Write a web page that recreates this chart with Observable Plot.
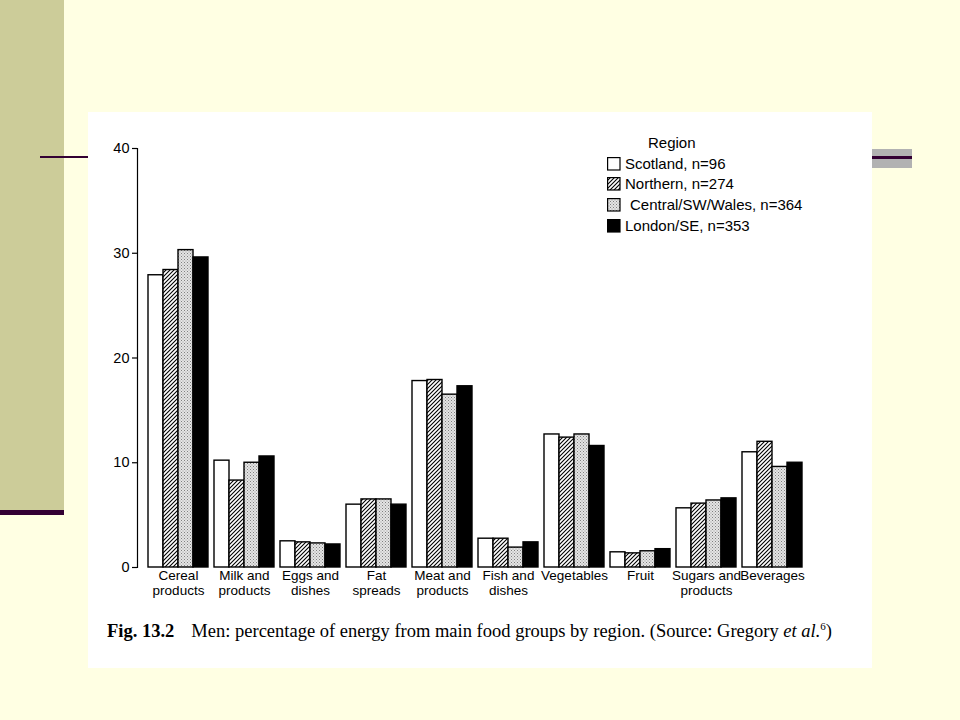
<!DOCTYPE html>
<html>
<head>
<meta charset="utf-8">
<script src="https://cdn.jsdelivr.net/npm/d3@7"></script>
<script src="https://cdn.jsdelivr.net/npm/@observablehq/plot@0.6"></script>
<style>
  html, body { margin: 0; padding: 0; }
  body { width: 960px; height: 720px; background: #FFFFE3; position: relative; overflow: hidden; font-family: "Liberation Sans", Arial, sans-serif; }
  .abs { position: absolute; }
  #band { left: 0; top: 0; width: 64px; height: 511px; background: #CCCC99; }
  #lineBottom { left: 0; top: 510px; width: 64px; height: 5px; background: #330033; }
  #lineLeft { left: 40px; top: 156px; width: 48px; height: 2px; background: #330033; }
  #greyBar { left: 872px; top: 149px; width: 40px; height: 19px; background: #B2B2B2; }
  #greyLine { left: 872px; top: 156px; width: 40px; height: 3px; background: #330033; }
  #panel { left: 88px; top: 112px; width: 784px; height: 556px; background: white; }
  #legend { left: 600px; top: 134px; font-size: 15px; color: #000; }
  #legend .title { position: absolute; left: 48px; top: 0; white-space: nowrap; }
  #legend .row { position: absolute; left: 7px; white-space: nowrap; height: 17px; }
  #legend .row svg { position: absolute; left: 0; top: 2px; }
  #legend .row span { position: absolute; left: 18px; top: 0; }
  #caption { left: 107px; top: 620px; font-family: "Liberation Serif", "Times New Roman", serif; font-size: 18.5px; white-space: nowrap; color: #000; }
  #caption b { margin-right: 17px; }
</style>
</head>
<body>
<svg width="0" height="0" style="position:absolute">
  <defs>
    <pattern id="hatch" patternUnits="userSpaceOnUse" width="4" height="4">
      <rect width="4" height="4" fill="white"/>
      <path d="M-1,1 l2,-2 M0,4 l4,-4 M3,5 l2,-2" stroke="black" stroke-width="1.1"/>
    </pattern>
    <pattern id="stipple" patternUnits="userSpaceOnUse" width="3" height="3">
      <rect width="3" height="3" fill="#e4e4e4"/>
      <rect x="0" y="0" width="1" height="1" fill="#808080"/>
      <rect x="1.5" y="1.5" width="1" height="1" fill="#9a9a9a"/>
    </pattern>
  </defs>
</svg>
<div id="band" class="abs"></div>
<div id="lineBottom" class="abs"></div>
<div id="lineLeft" class="abs"></div>
<div id="greyBar" class="abs"></div>
<div id="greyLine" class="abs"></div>
<div id="panel" class="abs"></div>
<div id="legend" class="abs"></div>
<div id="caption" class="abs"><b>Fig. 13.2</b>Men: percentage of energy from main food groups by region. (Source: Gregory <i>et al.</i><sup style="font-size:11px">6</sup>)</div>
<script>
// ---- Data ----
const categories = ["Cereal\nproducts", "Milk and\nproducts", "Eggs and\ndishes", "Fat\nspreads", "Meat and\nproducts", "Fish and\ndishes", "Vegetables", "Fruit", "Sugars and\nproducts", "Beverages"];
const regions = ["Scotland, n=96", "Northern, n=274", "Central/SW/Wales, n=364", "London/SE, n=353"];
const scotland = [27.9, 10.2, 2.5, 6.0, 17.8, 2.75, 12.7, 1.45, 5.65, 11.0];
const northern = [28.4, 8.3, 2.4, 6.5, 17.9, 2.75, 12.4, 1.35, 6.1, 12.0];
const central  = [30.3, 10.0, 2.3, 6.5, 16.5, 1.9, 12.7, 1.55, 6.4, 9.6];
const london   = [29.6, 10.6, 2.2, 6.0, 17.3, 2.4, 11.6, 1.75, 6.6, 10.0];
const yTicks = [0, 10, 20, 30, 40];
const legendTitle = "Region";
const fills = ["white", "url(#hatch)", "url(#stipple)", "black"];

const series = [scotland, northern, central, london];
const data = categories.flatMap((c, i) => regions.map((r, j) => ({category: c, region: r, value: series[j][i]})));

const chart = Plot.plot({
  width: 784,
  height: 500,
  marginLeft: 57,
  marginRight: 67,
  marginTop: 36,
  marginBottom: 45,
  style: {fontFamily: "'Liberation Sans', Arial, sans-serif", background: "transparent", color: "black"},
  fx: {domain: categories, paddingInner: 0, paddingOuter: 0},
  x: {domain: regions, paddingInner: 0, paddingOuter: 0.14, axis: null},
  y: {domain: [0, 40]},
  color: {type: "ordinal", domain: regions, range: fills},
  marks: [
    Plot.barY(data, {fx: "category", x: "region", y: "value", fill: "region", stroke: "black", strokeWidth: 1.4, inset: 0}),
    Plot.frame({anchor: "left", facetAnchor: "left", dx: -8, stroke: "black", strokeWidth: 1.2}),
    Plot.axisY({ticks: yTicks, tickSize: 5, tickPadding: 3, dx: -8, fontSize: 14.5, label: null, stroke: "black", strokeWidth: 1.2}),
    Plot.axisFx({anchor: "bottom", tickSize: 0, tickPadding: 3, fontSize: 13.5, lineHeight: 1.04, label: null})
  ]
});
chart.style.position = "absolute";
chart.style.left = "0px";
chart.style.top = "0px";
document.getElementById("panel").appendChild(chart);

// legend
const legend = d3.select("#legend");
legend.append("div").attr("class", "title").text(legendTitle);
const rowTops = [21, 41, 62, 83];
regions.forEach((r, i) => {
  const row = legend.append("div").attr("class", "row").style("top", rowTops[i] + "px");
  const s = row.append("svg").attr("width", 14).attr("height", 14);
  s.append("rect").attr("x", 0.6).attr("y", 0.6).attr("width", 12.4).attr("height", 12.4)
    .attr("fill", fills[i]).attr("stroke", "black").attr("stroke-width", 1.2);
  row.append("span").style("left", (i === 2 ? 23 : 18) + "px").text(r);
});
</script>
</body>
</html>
